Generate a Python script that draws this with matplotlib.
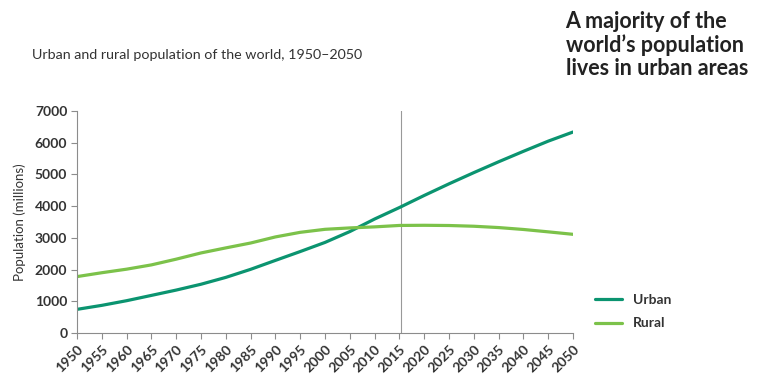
import numpy as np
import matplotlib.pyplot as plt

plt.rcParams['font.family'] = ['Lato', 'DejaVu Sans']

# Data (millions)
years = list(range(1950, 2051, 5))
urban = [746, 872, 1019, 1186, 1354, 1538, 1754, 2008, 2290, 2569, 2857,
         3199, 3595, 3957, 4338, 4705, 5058, 5400, 5730, 6051, 6339]
rural = [1779, 1901, 2013, 2148, 2329, 2525, 2684, 2838, 3030, 3175, 3270,
         3314, 3347, 3392, 3397, 3390, 3367, 3325, 3265, 3190, 3112]
marker_year = 2015.4

urban_color = '#0b9470'
rural_color = '#7cc24a'
axis_color = '#8c8c8c'
text_color = '#333333'

fig = plt.figure(figsize=(7.8, 3.87), dpi=100)
ax = fig.add_axes([0.0987, 0.1395, 0.636, 0.5736])

ax.plot(years, urban, color=urban_color, lw=2.3, label='Urban', solid_capstyle='round')
ax.plot(years, rural, color=rural_color, lw=2.3, label='Rural', solid_capstyle='round')
ax.axvline(marker_year, color='#999999', lw=0.8, zorder=0)

ax.set_xlim(1950, 2050)
ax.set_ylim(0, 7000)
ax.set_xticks(years)
ax.set_xticklabels([str(y) for y in years], rotation=45, ha='right',
                   rotation_mode='anchor', fontsize=10, fontweight='bold', color=text_color)
ax.set_yticks(range(0, 7001, 1000))
ax.set_yticklabels([str(v) for v in range(0, 7001, 1000)], fontsize=10,
                   fontweight='bold', color=text_color)
ax.tick_params(axis='both', direction='out', length=4, width=0.8, color=axis_color, pad=3)
for s in ['top', 'right']:
    ax.spines[s].set_visible(False)
for s in ['left', 'bottom']:
    ax.spines[s].set_color(axis_color)
    ax.spines[s].set_linewidth(0.8)

ax.set_ylabel('Population (millions)', fontsize=9.5, color=text_color, labelpad=6)

leg = ax.legend(loc='lower left', bbox_to_anchor=(1.02, -0.04), frameon=False,
                handlelength=1.9, handletextpad=0.8, labelspacing=0.85,
                prop={'size': 10, 'weight': 'bold'})
for t in leg.get_texts():
    t.set_color(text_color)

fig.text(0.041, 0.858, 'Urban and rural population of the world, 1950\u20132050',
         fontsize=10.3, color=text_color, va='center')
fig.text(0.725, 0.884, 'A majority of the\nworld\u2019s population\nlives in urban areas',
         fontsize=15.5, fontweight='bold', color='#222222', va='center',
         linespacing=1.14)

fig.savefig('out.png', dpi=100)
